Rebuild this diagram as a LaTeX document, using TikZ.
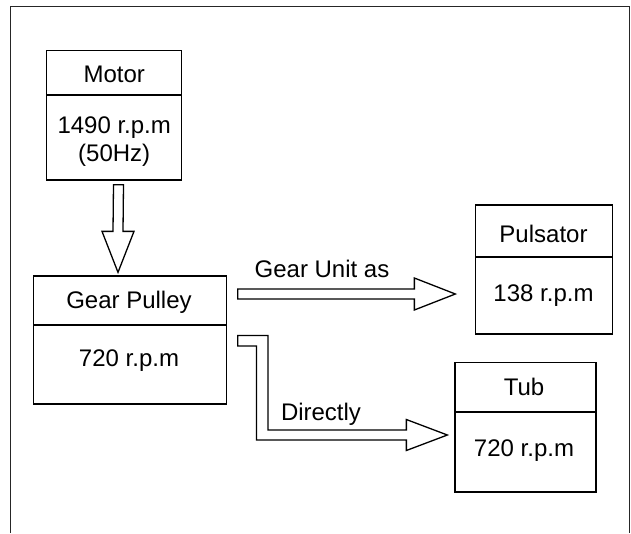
\documentclass[tikz,border=0pt]{standalone}
\usepackage{fontspec}
\setmainfont{Liberation Sans}
\usetikzlibrary{calc}
\begin{document}
\begin{tikzpicture}[x=1pt,y=-1pt,
  box/.style={draw, line width=1.3pt, inner sep=0pt},
  lbl/.style={anchor=base, inner sep=0pt, font=\fontsize{24}{28.5}\selectfont},
  flowarrow/.style={draw, line width=1.3pt, fill=white, line join=miter},
  frame/.style={draw, line width=0.9pt, black!85}]
\useasboundingbox (0,0) rectangle (631,533);
% outer frame (open at bottom)
\draw[frame] (10,533) -- (10,6) -- (629,6) -- (629,533);
% boxes
\node[box, minimum width=135pt, minimum height=129.3pt] (motor) at (114.2,115.35) {};
\node[box, minimum width=192.6pt, minimum height=128pt] (gear) at (130.1,340) {};
\node[box, minimum width=136.6pt, minimum height=129pt] (puls) at (544,269.5) {};
\node[box, minimum width=141pt, minimum height=129.3pt] (tub) at (525.5,427.35) {};
% dividers
\draw[line width=1.3pt] (motor.west |- 0,95) -- (motor.east |- 0,95);
\draw[line width=1.3pt] (gear.west |- 0,325) -- (gear.east |- 0,325);
\draw[line width=1.3pt] (puls.west |- 0,257) -- (puls.east |- 0,257);
\draw[line width=1.3pt] (tub.west |- 0,412) -- (tub.east |- 0,412);
% texts
\node[lbl] (motorT) at (114.2,82.7) {Motor};
\node[lbl] (motorS1) at (114.2,133.3) {1490 r.p.m};
\node[lbl] (motorS2) at (114.2,161.7) {(50Hz)};
\node[lbl] (gearT) at (129,308.5) {Gear Pulley};
\node[lbl] (gearS) at (129,366.5) {720 r.p.m};
\node[lbl] (pulsT) at (543.5,242.5) {Pulsator};
\node[lbl] (pulsS) at (543.5,301.5) {138 r.p.m};
\node[lbl] (tubT) at (524,395.7) {Tub};
\node[lbl] (tubS) at (524,456) {720 r.p.m};
\node[lbl] (gulbl) at (322,277.7) {Gear Unit as};
\node[lbl] (dirlbl) at (321,420) {Directly};
% arrow Motor -> Gear Pulley
\coordinate (ds) at ($(motor.south)+(4.3,4)$);
\coordinate (de) at ($(gear.north)+(-12.1,-3)$);
\draw[flowarrow] ($(ds)+(-5,0)$) -- ($(ds)+(5,0)$) -- ($(de)+(5,-41)$) -- ($(de)+(16,-41)$)
  -- (de) -- ($(de)+(-16,-41)$) -- ($(de)+(-5,-41)$) -- cycle;
% arrow Gear Pulley -> Pulsator
\coordinate (gs) at ($(gear.east |- 0,294)+(10.6,0)$);
\coordinate (ge) at ($(puls.west |- 0,294)+(-19.7,0)$);
\draw[flowarrow] ($(gs)+(0,-5)$) -- ($(ge)+(-41,-5)$) -- ($(ge)+(-41,-16)$) -- (ge)
  -- ($(ge)+(-41,16)$) -- ($(ge)+(-41,5)$) -- ($(gs)+(0,5)$) -- cycle;
% arrow Gear Pulley -> Tub (bent)
\coordinate (bs) at ($(gear.east |- 0,340.7)+(10.6,0)$);
\coordinate (be) at ($(tub.west |- 0,435)+(-7,0)$);
\draw[flowarrow] ($(bs)+(0,-5.2)$) -- (268,335.5) -- (268,430) -- ($(be)+(-41,-5)$)
  -- ($(be)+(-41,-15.5)$) -- (be) -- ($(be)+(-41,15.5)$) -- ($(be)+(-41,5)$)
  -- (256.5,440) -- (256.5,346) -- ($(bs)+(0,5.3)$) -- cycle;
\end{tikzpicture}
\end{document}
